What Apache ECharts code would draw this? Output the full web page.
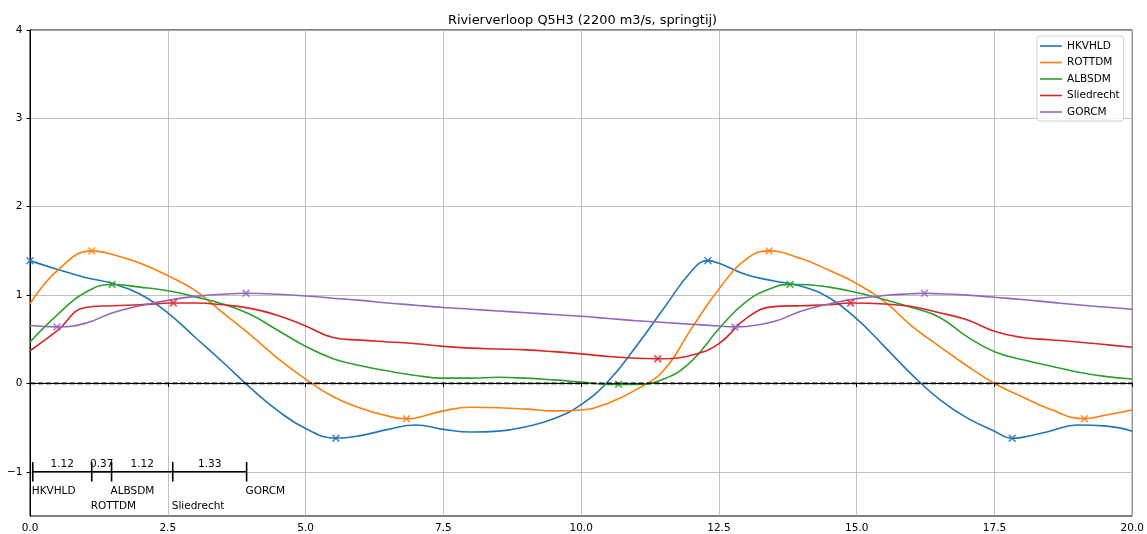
<!DOCTYPE html>
<html>
<head>
<meta charset="utf-8">
<script src="https://cdn.jsdelivr.net/npm/echarts@6/dist/echarts.min.js"></script>
<style>
html,body{margin:0;padding:0;background:#fff;}
#chart{width:1147px;height:534px;}
</style>
</head>
<body>
<div id="chart"></div>
<script>
// ---------------- data ----------------
const titleText = 'Rivierverloop Q5H3 (2200 m3/s, springtij)';
const stations = ['HKVHLD', 'ROTTDM', 'ALBSDM', 'Sliedrecht', 'GORCM'];
const colors = ['#1f77b4', '#ff7f0e', '#2ca02c', '#d62728', '#9467bd'];

const xs = [0,0.5,1,1.5,2,2.5,3,3.5,4,4.5,5,5.5,6,6.5,7,7.5,8,8.5,9,9.5,10,
            10.5,11,11.5,12,12.5,13,13.5,14,14.5,15,15.5,16,16.5,17,17.5,18,18.5,19,19.5,20];

const hkvhld = [1.39,1.29,1.20,1.13,1.01,0.80,0.52,0.24,-0.05,-0.31,-0.51,-0.61,-0.59,-0.52,-0.47,-0.52,-0.55,-0.54,-0.49,-0.40,-0.24,
                0.03,0.42,0.85,1.27,1.36,1.23,1.16,1.10,0.97,0.73,0.42,0.10,-0.18,-0.39,-0.54,-0.61,-0.54,-0.47,-0.48,-0.54];
const rottdm = [0.90,1.28,1.48,1.46,1.36,1.22,1.05,0.80,0.55,0.28,0.05,-0.15,-0.28,-0.37,-0.39,-0.31,-0.27,-0.275,-0.29,-0.31,-0.30,
                -0.22,-0.07,0.15,0.62,1.07,1.41,1.50,1.41,1.28,1.13,0.93,0.65,0.42,0.20,0.00,-0.15,-0.29,-0.38,-0.36,-0.30];
const albsdm = [0.47,0.78,1.03,1.12,1.09,1.05,0.98,0.90,0.78,0.60,0.42,0.28,0.20,0.14,0.09,0.06,0.06,0.07,0.06,0.04,0.015,
                -0.01,-0.01,0.05,0.25,0.62,0.93,1.09,1.12,1.09,1.03,0.95,0.86,0.75,0.53,0.36,0.27,0.20,0.13,0.08,0.05];
const sliedrecht = [0.37,0.60,0.86,0.88,0.89,0.91,0.91,0.89,0.85,0.77,0.65,0.52,0.49,0.47,0.45,0.42,0.40,0.39,0.38,0.36,0.335,
                    0.305,0.285,0.28,0.32,0.45,0.74,0.87,0.88,0.89,0.90,0.90,0.87,0.80,0.72,0.59,0.52,0.495,0.47,0.44,0.41];
const gorcm = [0.655,0.64,0.68,0.80,0.88,0.94,0.985,1.01,1.02,1.01,0.99,0.965,0.94,0.91,0.885,0.86,0.84,0.82,0.80,0.78,0.76,
               0.735,0.71,0.69,0.67,0.65,0.645,0.70,0.82,0.90,0.96,0.995,1.015,1.015,1.0,0.975,0.95,0.92,0.89,0.865,0.84];

// extremes (marked with x)
const hkvhldExt = [[0,1.39],[5.55,-0.62],[12.3,1.39],[17.82,-0.62]];
const rottdmExt = [[1.12,1.50],[6.83,-0.40],[13.41,1.50],[19.13,-0.40]];
const albsdmExt = [[1.49,1.12],[10.68,-0.01],[13.79,1.12]];
const sliedrechtExt = [[2.60,0.91],[11.39,0.28],[14.89,0.91]];
const gorcmExt = [[0.49,0.64],[3.92,1.02],[12.79,0.64],[16.23,1.02]];

// lag annotation
const lagTicks = [0.05, 1.12, 1.48, 2.59, 3.93];
const lagLabels = ['1.12', '0.37', '1.12', '1.33'];
const lagLevel = -1;

const zeroLine = [[0,0],[20,0]];
const yTicks = [-1,0,1,2,3,4];

// ---------------- chart ----------------
const FONT = 'DejaVu Sans';
const FS = 10.5;
const values = [hkvhld, rottdm, albsdm, sliedrecht, gorcm];
const exts = [hkvhldExt, rottdmExt, albsdmExt, sliedrechtExt, gorcmExt];

function merged(vals, ext) {
  let pts = xs.map((x, i) => [x, vals[i]]);
  ext.forEach(p => {
    const same = pts.findIndex(q => Math.abs(q[0] - p[0]) < 1e-9);
    if (same >= 0) { return; }
    pts = pts.filter(q => Math.abs(q[0] - p[0]) > 0.15 || q[0] === 0 || q[0] === 20);
    pts.push(p);
  });
  pts.sort((a, b) => a[0] - b[0]);
  return pts;
}

const crossPath = 'path://M0,1.5L1.5,0L5,3.5L8.5,0L10,1.5L6.5,5L10,8.5L8.5,10L5,6.5L1.5,10L0,8.5L3.5,5Z';
const legendLine = 'path://M0,0M22,12M0,5.2L22,5.2L22,6.8L0,6.8Z';

const series = [];
stations.forEach((name, k) => {
  series.push({
    name: name, type: 'line', data: merged(values[k], exts[k]),
    smooth: 0.45, symbol: 'none', showSymbol: false,
    lineStyle: { color: colors[k], width: 1.6 }, itemStyle: { color: colors[k] },
    z: 3, silent: true
  });
});
stations.forEach((name, k) => {
  series.push({
    name: name + '_ext', type: 'scatter', data: exts[k],
    symbol: crossPath, symbolSize: 8,
    itemStyle: { color: colors[k] }, z: 4, silent: true
  });
});
series.push({
  name: 'zero', type: 'line', data: zeroLine, symbol: 'none',
  lineStyle: { color: '#000', width: 1.7, type: [5.5, 2.4] }, z: 5, silent: true
});
series.push({
  name: 'lag', type: 'custom', coordinateSystem: 'cartesian2d', silent: true, z: 6,
  encode: { x: 0, y: 1 },
  data: lagTicks.map((x, i) => [x, lagLevel, i]),
  renderItem: function (params, api) {
    const i = api.value(2);
    const x = api.value(0);
    const p = api.coord([x, lagLevel]);
    const children = [];
    const t1 = api.coord([x, lagLevel + 0.11]);
    const t2 = api.coord([x, lagLevel - 0.11]);
    children.push({ type: 'line', shape: { x1: t1[0], y1: t1[1], x2: t2[0], y2: t2[1] },
                    style: { stroke: '#000', lineWidth: 1.6 } });
    const rowY = (i % 2 === 0) ? -1.22 : -1.395;
    const np = api.coord([x, rowY]);
    children.push({ type: 'text', style: { text: stations[i], x: np[0] - 1, y: np[1], align: 'left',
                    verticalAlign: 'middle', fontSize: FS, fontFamily: FONT, fill: '#000' } });
    if (i < lagTicks.length - 1) {
      const q = api.coord([lagTicks[i + 1], lagLevel]);
      children.push({ type: 'line', shape: { x1: p[0], y1: p[1], x2: q[0], y2: q[1] },
                      style: { stroke: '#000', lineWidth: 1.6 } });
      const lp = api.coord([(x + lagTicks[i + 1]) / 2, lagLevel + 0.088]);
      children.push({ type: 'text', style: { text: lagLabels[i], x: lp[0], y: lp[1], align: 'center',
                      verticalAlign: 'middle', fontSize: FS, fontFamily: FONT, fill: '#000' } });
    }
    return { type: 'group', children: children };
  }
});

const chart = echarts.init(document.getElementById('chart'), null, { renderer: 'canvas' });
chart.setOption({
  animation: false,
  backgroundColor: '#fff',
  textStyle: { fontFamily: FONT },
  title: {
    text: titleText, left: 582.5, top: 14, textAlign: 'center', padding: 0,
    textStyle: { fontFamily: FONT, fontSize: 12.9, fontWeight: 'normal', color: '#000' }
  },
  legend: {
    data: stations, orient: 'vertical', left: 1037, top: 36, icon: legendLine,
    padding: [4, 4, 3, 3], itemWidth: 22, itemHeight: 12, itemGap: 4.5, itemTextGap: 10,
    borderColor: '#d0d0d0', borderWidth: 1, borderRadius: 3,
    backgroundColor: 'rgba(255,255,255,0.8)',
    textStyle: { fontFamily: FONT, fontSize: FS, color: '#000' }
  },
  grid: { left: 30, right: 12, top: 30, bottom: 17, show: true, borderColor: '#000', borderWidth: 1,
          backgroundColor: 'transparent' },
  xAxis: {
    type: 'value', min: 0, max: 20, interval: 2.5,
    axisLine: { lineStyle: { color: '#000', width: 1 } },
    axisTick: { show: true, length: 3.5, lineStyle: { color: '#000' } },
    axisLabel: { formatter: v => v.toFixed(1), fontFamily: FONT, fontSize: FS, color: '#000', margin: 7,
                 showMinLabel: true, showMaxLabel: true },
    splitLine: { show: true, lineStyle: { color: '#b0b0b0', width: 0.8 } }
  },
  yAxis: {
    type: 'value', min: -1.5, max: 4,
    axisLine: { show: true, lineStyle: { color: '#000', width: 1 } },
    axisTick: { show: true, length: 3.5, lineStyle: { color: '#000' }, customValues: yTicks },
    axisLabel: { customValues: yTicks, formatter: v => (v < 0 ? '\u2212' + (-v) : String(v)),
                 fontFamily: FONT, fontSize: FS, color: '#000', margin: 7.5 },
    splitLine: { show: true, lineStyle: { color: '#b0b0b0', width: 0.8 } }
  },
  series: series
});
</script>
</body>
</html>
